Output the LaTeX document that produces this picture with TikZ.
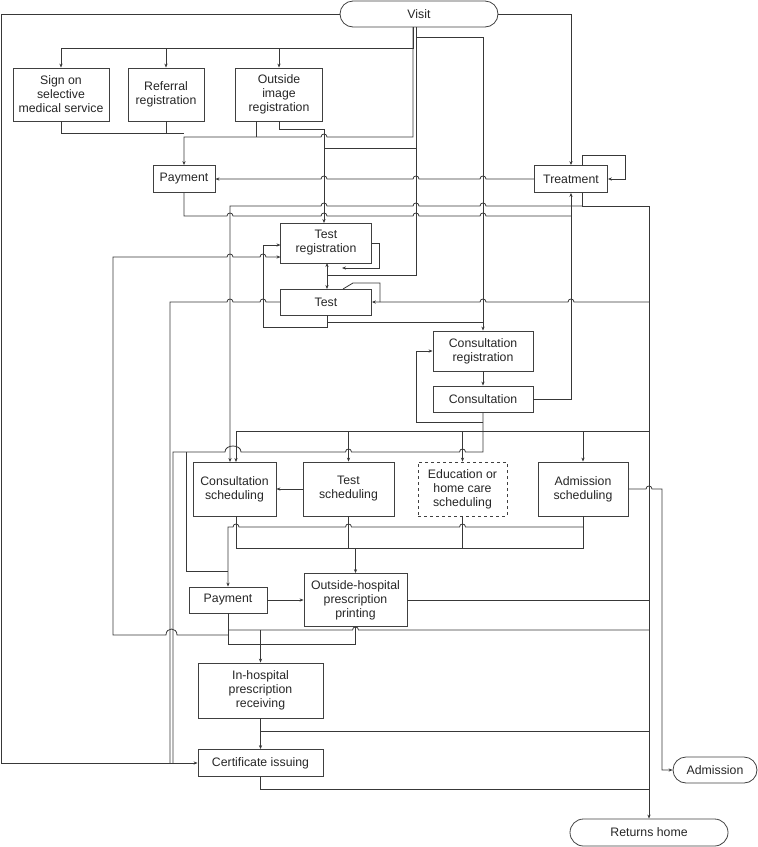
\documentclass[tikz,border=0pt]{standalone}
\usepackage{fontspec}
\setmainfont{Liberation Sans}
\usetikzlibrary{arrows.meta,shapes.misc}
\newcommand{\boxfont}{\fontsize{12.3}{14}\selectfont}
\newcommand{\hopR}[2]{-- ({#1-3},#2) .. controls ({#1-3},{#2-4}) and ({#1+3},{#2-4}) .. ({#1+3},#2)}
\newcommand{\hopL}[2]{-- ({#1+3},#2) .. controls ({#1+3},{#2-4}) and ({#1-3},{#2-4}) .. ({#1-3},#2)}
\begin{document}
\begin{tikzpicture}[x=1pt,y=-1pt, color=black!78, line width=0.8pt,
  box/.style={draw=black!75, line width=0.8pt, align=center, inner sep=0pt, font=\boxfont, text=black!85},
  term/.style={box, rounded rectangle},
  arr/.style={-{Stealth[length=4pt,width=3.2pt]}}]
\useasboundingbox (0,0) rectangle (758,847);
% nodes
\node[term, minimum width=158, minimum height=26] (visit) at (419,14) {Visit};
\node[box, minimum width=96, minimum height=53] (signon) at (61,94.5) {Sign on\\selective\\medical service};
\node[box, minimum width=76, minimum height=53] (referral) at (166,94.5) {Referral\\registration};
\node[box, minimum width=87, minimum height=53] (outside) at (279,94.5) {Outside\\image\\registration};
\node[box, minimum width=62, minimum height=27] (pay1) at (184,179) {Payment};
\node[box, minimum width=73, minimum height=27] (treat) at (571,179) {Treatment};
\node[box, minimum width=91, minimum height=40] (testreg) at (326,243) {Test\\registration};
\node[box, minimum width=91, minimum height=26] (test) at (326,302) {Test};
\node[box, minimum width=100, minimum height=40] (consreg) at (483,351) {Consultation\\registration};
\node[box, minimum width=100, minimum height=26] (cons) at (483,399) {Consultation};
\node[box, minimum width=83, minimum height=54] (conssch) at (234.5,489) {Consultation\\scheduling};
\node[box, minimum width=91, minimum height=54] (testsch) at (348.5,489) {Test\\scheduling};
\node[box, dashed, minimum width=89, minimum height=54] (edu) at (462.5,489) {Education or\\home care\\scheduling};
\node[box, minimum width=90, minimum height=54] (admsch) at (583,489) {Admission\\scheduling};
\node[box, minimum width=78, minimum height=26] (pay2) at (228,600) {Payment};
\node[box, minimum width=103, minimum height=53] (outp) at (355.5,600) {Outside-hospital\\prescription\\printing};
\node[box, minimum width=125, minimum height=55] (inhosp) at (260.5,690.5) {In-hospital\\prescription\\receiving};
\node[box, minimum width=125, minimum height=27] (cert) at (260.5,763) {Certificate issuing};
\node[term, minimum width=84, minimum height=26] (admission) at (715,770) {Admission};
\node[term, minimum width=158, minimum height=27] (home) at (649,832.5) {Returns home};

% Visit to top boxes
\draw (413,27) -- (413,48) -- (61,48);
\draw[arr] (61,48) -- (signon.north);
\draw[arr] (166,48) -- (referral.north);
\draw[arr] (279,48) -- (outside.north);
% Visit -> Payment
\draw[arr] (413,27) -- (413,137) \hopL{324}{137} -- (184,137) -- (pay1.north);
\draw (signon.south) |- (184,133);
\draw (referral.south) -- (166,133);
\draw (256,121) -- (256,137);
% Outside image -> Test registration
\draw[arr] (outside.south) |- (324,129) -- (324,223);
% Visit -> test registration / test / consultation registration
\draw (416,27) -- (416,275) -- (327,275);
\draw[arr] (327,275) -- (327,263);
\draw[arr] (327,275) -- (327,289);
\draw (416,148) -- (324,148);
\draw[arr] (416,37) -- (483,37) -- (consreg.north);
% Visit -> Treatment
\draw[arr] (visit.east) -| (treat.north);
% Treatment self loop
\draw[arr] (582,165.5) -- (582,155) -- (625,155) -- (625,179) -- (treat.east);
% Treatment -> Payment
\draw[arr] (treat.west) \hopL{483}{179} \hopL{416}{179} \hopL{324}{179} -- (pay1.east);
% Treatment -> returns home / consultation scheduling
\draw[arr] (582,192.5) -- (582,206) -- (649,206) -- (home.north);
\draw[arr] (582,206) \hopL{483}{206} \hopL{416}{206} \hopL{324}{206} -- (230,206) -- (230,462);
% Payment -> Treatment
\draw (pay1.south) -- (184,216) \hopR{230}{216} \hopR{324}{216} \hopR{416}{216} \hopR{483}{216} -- (571,216);
% Consultation -> Treatment
\draw[arr] (cons.east) -| (treat.south);
% Test registration self loop
\draw[arr] (testreg.east) -- (379,243) -- (379,268) -- (342,268);
% Test -> Test registration loop
\draw[arr] (327,315) -- (327,327) -- (263,327) -- (263,245) -- (280.5,245);
\draw (327,322) -- (483,322);
% Test self loop and input from right
\draw (343,289) -- (353,283) -- (380,283) -- (380,302);
\draw[arr] (649,302) \hopL{571}{302} \hopL{483}{302} -- (test.east);
% Test -> Certificate
\draw (test.west) \hopL{263}{302} \hopL{230}{302} -- (170,302) -- (170,763);
% Visit -> Certificate
\draw[arr] (visit.west) -| (1,763) -- (cert.west);
% Consultation registration -> Consultation
\draw[arr] (consreg.south) -- (cons.north);
% Consultation outputs
\draw (cons.south) -- (483,452) \hopL{462.5}{452} \hopL{348.5}{452} -- (241,452) .. controls (241,444) and (225,444) .. (225,452) -- (173,452) -- (173,763);
\draw[arr] (483,422) -- (416,422) -- (416,351) -- (consreg.west);
\draw (236,431) -- (649,431);
\draw[arr] (236,431) -- (236,462);
\draw[arr] (348.5,431) -- (testsch.north);
\draw[arr] (462.5,431) -- (edu.north);
\draw[arr] (583,431) -- (admsch.north);
\draw (186,452) -- (186,571) -- (228,571);
% Test scheduling -> Consultation scheduling
\draw[arr] (testsch.west) -- (conssch.east);
% scheduling outputs
\draw (236,516) -- (236,548) -- (583,548) -- (admsch.south);
\draw (testsch.south) -- (348.5,548);
\draw (edu.south) -- (462.5,548);
\draw[arr] (355.5,548) -- (outp.north);
\draw[arr] (583,527) \hopL{462.5}{527} \hopL{348.5}{527} \hopL{236}{527} -- (228,527) -- (pay2.north);
% Admission scheduling -> Admission
\draw[arr] (admsch.east) \hopR{649}{489} -- (662,489) |- (admission.west);
% Payment -> Outside-hospital prescription printing
\draw[arr] (pay2.east) -- (outp.west);
\draw (outp.east) -- (649,600);
\draw (pay2.south) -- (228,644) -- (355.5,644) -- (outp.south);
\draw (228,630) \hopR{355.5}{630} -- (649,630);
\draw[arr] (260.5,630) -- (inhosp.north);
\draw[arr] (228,635) -- (177,635) .. controls (177,627) and (166,627) .. (166,635) -- (113,635) -- (113,257) \hopR{230}{257} \hopR{263}{257} -- (280.5,257);
% In-hospital -> Certificate
\draw[arr] (inhosp.south) -- (cert.north);
\draw (260.5,731) -- (649,731);
\draw (cert.south) |- (649,789);
\end{tikzpicture}
\end{document}
